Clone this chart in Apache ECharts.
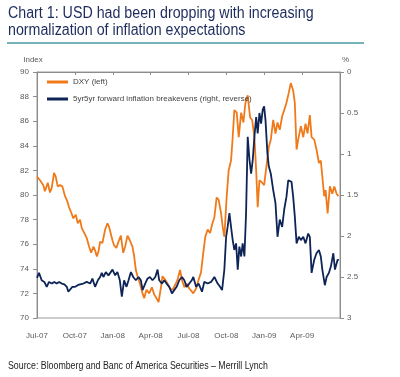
<!DOCTYPE html>
<html>
<head>
    <meta charset="utf-8">
    <title>USD vs inflation breakevens</title>
    <style>
        html,
        body,
        #chart {
            margin: 0px;
            padding: 0px;
            width: 400px;
            height: 377px;
            background: #fff;
        }
    </style>
</head>
<body>
    <div id="chart"></div>
    <script src="https://cdn.jsdelivr.net/npm/echarts@6/dist/echarts.min.js"></script>
    <script type="text/javascript">
        // x axis: months after Jul-07
        var tickLabels = ['Jul-07', 'Oct-07', 'Jan-08', 'Apr-08', 'Jul-08', 'Oct-08', 'Jan-09', 'Apr-09', ''];

        // DXY (left axis, index)
        var dxyMonths = [0, 0.24, 0.5, 0.63, 0.85, 1.03, 1.17, 1.35, 1.48, 1.64, 1.83, 2.01, 2.22, 2.4, 2.54, 2.7, 2.88,
            3.07, 3.23, 3.41, 3.55, 3.75, 3.94, 4.13, 4.29, 4.47, 4.6, 4.74, 4.87, 5.0, 5.18, 5.4, 5.58, 5.71, 5.98,
            6.11, 6.29, 6.45, 6.64, 6.83, 6.98, 7.17, 7.36, 7.56, 7.7, 7.83, 7.96, 8.15, 8.36, 8.49, 8.67, 8.89, 9.1,
            9.29, 9.47, 9.63, 9.82, 9.94, 10.16, 10.34, 10.53, 10.74, 10.95, 11.13, 11.33, 11.48, 11.67, 11.85, 12.06,
            12.22, 12.38, 12.6, 12.8, 12.99, 13.17, 13.33, 13.52, 13.71, 13.87, 14.05, 14.23, 14.39, 14.58, 14.71,
            14.84, 15.02, 15.18, 15.37, 15.5, 15.63, 15.82, 15.98, 16.17, 16.35, 16.51, 16.69, 16.88, 17.04, 17.22,
            17.36, 17.48, 17.62, 17.83, 17.99, 18.17, 18.36, 18.52, 18.71, 18.89, 19.05, 19.23, 19.42, 19.58, 19.76,
            19.94, 20.1, 20.29, 20.42, 20.56, 20.69, 20.9, 21.09, 21.27, 21.43, 21.61, 21.75, 21.96, 22.14, 22.33,
            22.48, 22.6, 22.75, 22.86, 23.02, 23.2, 23.39, 23.55, 23.73, 23.87];
        var dxyValues = [81.5, 81.2, 80.8, 80.3, 81.0, 80.2, 80.6, 81.8, 81.5, 80.7, 80.8, 80.7, 79.9, 79.5, 79.0, 78.6, 78.1,
            78.4, 77.7, 78.0, 77.3, 76.9, 76.5, 75.8, 75.3, 75.8, 75.5, 75.0, 75.4, 76.2, 76.1, 77.2, 77.7, 77.4, 76.3,
            75.9, 75.7, 76.2, 76.7, 75.3, 75.8, 76.7, 76.3, 75.8, 75.0, 73.9, 73.4, 72.8, 72.0, 71.6, 72.3, 72.0, 72.5,
            71.9, 71.6, 71.3, 72.5, 73.4, 73.1, 72.8, 72.4, 72.3, 72.7, 73.1, 73.9, 73.1, 72.5, 72.8, 72.4,
            72.2, 72.0, 72.4, 73.1, 73.7, 75.3, 76.6, 77.2, 76.9, 77.6, 78.2, 79.8, 79.6, 78.5, 77.4,
            76.6, 79.8, 82.0, 82.8, 84.7, 86.9, 86.7, 84.7, 86.7, 85.9, 87.5, 88.1, 86.3, 86.1, 84.7,
            82.0, 79.0, 81.2, 81.0, 80.8, 82.3, 83.9, 84.5, 86.1, 85.0, 85.9, 85.3, 86.4, 86.9, 87.5,
            88.3, 89.1, 88.5, 87.5, 83.7, 84.5, 85.6, 84.7, 85.8, 85.0, 86.5, 84.7, 84.5, 83.7, 82.6,
            82.8, 81.5, 79.9, 80.4, 78.5, 80.7, 80.1, 80.7, 80.1, 79.9];

        // 5yr5yr forward breakevens (right axis, %, reversed)
        var beMonths = [0, 0.16, 0.37, 0.58, 0.77, 0.95, 1.17, 1.37, 1.56, 1.75, 1.96, 2.17, 2.36, 2.48, 2.62, 2.8, 3.02,
            3.23, 3.41, 3.67, 3.94, 4.21, 4.39, 4.6, 4.82, 5.0, 5.13, 5.26, 5.45, 5.66, 5.98, 6.19, 6.37, 6.56, 6.72,
            6.9, 7.09, 7.25, 7.44, 7.62, 7.83, 8.04, 8.23, 8.36, 8.57, 8.75, 8.94, 9.15, 9.37, 9.55, 9.68, 9.9, 10.08,
            10.26, 10.48, 10.69, 10.87, 11.06, 11.27, 11.48, 11.67, 11.85, 12.06, 12.26, 12.38, 12.6, 12.8, 13.07,
            13.25, 13.52, 13.79, 14.05, 14.31, 14.5, 14.66, 14.84, 14.98, 15.1, 15.24, 15.37, 15.5, 15.63, 15.77,
            15.9, 16.03, 16.17, 16.29, 16.43, 16.56, 16.69, 16.83, 16.96, 17.09, 17.22, 17.36, 17.48, 17.62, 17.75,
            17.88, 17.99, 18.1, 18.25, 18.36, 18.52, 18.71, 18.89, 19.05, 19.23, 19.42, 19.58, 19.76, 19.9, 20.02,
            20.16, 20.29, 20.42, 20.56, 20.74, 20.9, 21.09, 21.27, 21.48, 21.61, 21.75, 21.96, 22.14, 22.33, 22.48,
            22.6, 22.8, 22.94, 23.12, 23.28, 23.47, 23.6, 23.81, 23.91];
        var beValues = [2.51, 2.45, 2.54, 2.56, 2.62, 2.56, 2.58, 2.56, 2.58, 2.56, 2.58, 2.59, 2.62, 2.68, 2.66, 2.62, 2.62,
            2.6, 2.59, 2.58, 2.56, 2.58, 2.52, 2.62, 2.54, 2.5, 2.45, 2.5, 2.44, 2.48, 2.41, 2.48, 2.44, 2.54, 2.74,
            2.54, 2.62, 2.54, 2.44, 2.5, 2.54, 2.5, 2.54, 2.66, 2.58, 2.52, 2.5, 2.54, 2.5, 2.41, 2.54, 2.58, 2.54,
            2.58, 2.62, 2.7, 2.66, 2.62, 2.54, 2.5, 2.54, 2.62, 2.58, 2.54, 2.5, 2.62, 2.58, 2.68,
            2.56, 2.58, 2.56, 2.5, 2.58, 2.62, 2.66, 2.41, 2.01, 1.89, 1.72, 1.89, 2.05, 2.17, 2.09,
            2.41, 2.13, 2.25, 2.09, 2.25, 1.72, 0.79, 1.07, 1.24, 1.07, 0.79, 0.55, 0.75, 0.5, 0.63,
            0.46, 0.42, 0.59, 0.99, 1.15, 1.24, 1.44, 1.6, 2.01, 1.8, 1.89, 1.68, 1.52, 1.32, 1.3,
            1.34, 1.52, 1.76, 2.09, 2.01, 2.05, 2.01, 2.09, 1.97, 2.01, 2.45, 2.29, 2.21, 2.17, 2.25,
            2.41, 2.6, 2.5, 2.45, 2.37, 2.21, 2.41, 2.29, 2.29];

        var leftTicks = ['70', '72', '74', '76', '78', '80', '82', '84', '86', '88', '90'];
        var rightTicks = ['0', '0.5', '1', '1.5', '2', '2.5', '3'];

        function pairs(xs, ys) {
            return xs.map(function (x, i) { return [x, ys[i]]; });
        }

        var font = "'Liberation Sans', Arial, sans-serif";
        var axisGray = '#8c8c8c';
        var labelGray = '#5a5a5a';

        var myChart = echarts.init(document.getElementById('chart'));
        myChart.setOption({
            animation: false,
            backgroundColor: '#fff',
            legend: {
                orient: 'vertical',
                left: 47,
                top: 78,
                padding: 0,
                itemWidth: 21,
                itemHeight: 3,
                itemGap: 9,
                icon: 'rect',
                textStyle: {
                    fontFamily: font,
                    fontSize: 8,
                    color: '#444'
                },
                data: ['DXY (left)', '5yr5yr forward inflation breakevens (right, reverse)']
            },
            grid: {
                left: 37,
                right: 60,
                top: 72,
                bottom: 59,
                show: true,
                borderColor: '#999',
                borderWidth: 1
            },
            xAxis: {
                type: 'value',
                min: 0,
                max: 24,
                interval: 3,
                splitLine: { show: false },
                axisLine: { lineStyle: { color: axisGray } },
                axisTick: { length: 3, lineStyle: { color: axisGray } },
                axisLabel: {
                    margin: 14,
                    fontFamily: font,
                    fontSize: 8,
                    color: labelGray,
                    formatter: function (v) { return tickLabels[Math.round(v / 3)]; }
                }
            },
            yAxis: [{
                type: 'value',
                min: 70,
                max: 90,
                interval: 2,
                name: 'Index',
                nameGap: 8,
                nameTextStyle: { fontFamily: font, fontSize: 8, color: labelGray, align: 'center', padding: [0, 8, 0, 0] },
                splitLine: { show: false },
                axisLine: { show: true, lineStyle: { color: axisGray } },
                axisTick: { show: true, length: 4, lineStyle: { color: axisGray } },
                axisLabel: {
                    margin: 8,
                    fontFamily: font,
                    fontSize: 8,
                    color: labelGray,
                    formatter: function (v) { return leftTicks[Math.round((v - 70) / 2)]; }
                }
            }, {
                type: 'value',
                min: 0,
                max: 3,
                interval: 0.5,
                inverse: true,
                position: 'right',
                name: '%',
                nameLocation: 'start',
                nameGap: 8,
                nameTextStyle: { fontFamily: font, fontSize: 8, color: labelGray, align: 'left', padding: [0, 0, 0, 2] },
                splitLine: { show: false },
                axisLine: { show: true, lineStyle: { color: axisGray } },
                axisTick: { show: true, length: 4, lineStyle: { color: axisGray } },
                axisLabel: {
                    margin: 7,
                    fontFamily: font,
                    fontSize: 8,
                    color: labelGray,
                    formatter: function (v) { return rightTicks[Math.round(v * 2)]; }
                }
            }],
            series: [{
                name: 'DXY (left)',
                type: 'line',
                yAxisIndex: 0,
                showSymbol: false,
                symbol: 'none',
                color: '#f07a1a',
                lineStyle: { width: 1.8, color: '#f07a1a' },
                data: pairs(dxyMonths, dxyValues)
            }, {
                name: '5yr5yr forward inflation breakevens (right, reverse)',
                type: 'line',
                yAxisIndex: 1,
                showSymbol: false,
                symbol: 'none',
                color: '#0e2456',
                lineStyle: { width: 1.8, color: '#0e2456' },
                data: pairs(beMonths, beValues)
            }],
            graphic: [{
                type: 'text',
                x: 8,
                y: 6,
                scaleX: 0.89,
                style: {
                    text: 'Chart 1: USD had been dropping with increasing',
                    font: '16px ' + font,
                    fill: '#1d2c5c',
                    verticalAlign: 'top'
                }
            }, {
                type: 'text',
                x: 8,
                y: 23,
                scaleX: 0.89,
                style: {
                    text: 'normalization of inflation expectations',
                    font: '16px ' + font,
                    fill: '#1d2c5c',
                    verticalAlign: 'top'
                }
            }, {
                type: 'rect',
                x: 7,
                y: 42,
                shape: { width: 357, height: 2 },
                style: { fill: '#74b2b9' }
            }, {
                type: 'text',
                x: 8,
                y: 361,
                scaleX: 0.88,
                style: {
                    text: 'Source: Bloomberg and Banc of America Securities \u2013 Merrill Lynch',
                    font: '10px ' + font,
                    fill: '#222',
                    verticalAlign: 'top'
                }
            }]
        });
    </script>
</body>
</html>
